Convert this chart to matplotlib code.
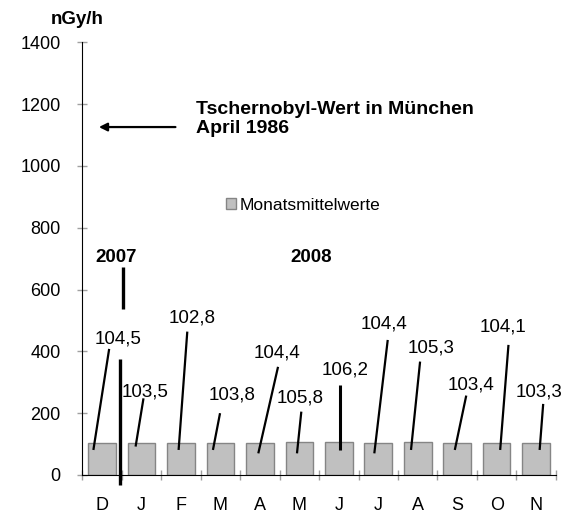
import matplotlib
matplotlib.use("Agg")
import matplotlib.pyplot as plt

plt.rcParams['font.family'] = ['Liberation Sans', 'DejaVu Sans']

# Monatsmittelwerte Dez 2007 - Nov 2008
monate = ["D", "J", "F", "M", "A", "M", "J", "J", "A", "S", "O", "N"]
werte = [104.5, 103.5, 102.8, 103.8, 104.4, 105.8, 106.2, 104.4, 105.3, 103.4, 104.1, 103.3]
jahre = ["2007", "2008"]
tschernobyl = 1126

# Lage der Beschriftungen (Text, oberes und unteres Ende der Linie)
text_x = [0.40, 1.10, 2.27, 3.29, 4.44, 5.02, 6.16, 7.15, 8.34, 9.35, 10.16, 11.08]
text_y = [440, 270, 507, 259, 394, 249, 340, 489, 410, 291, 478, 270]
top_x = [0.18, 1.05, 2.16, 2.99, 4.46, 5.05, 6.02, 7.24, 8.06, 9.23, 10.30, 11.18]
top_y = [408, 248, 464, 200, 350, 205, 291, 437, 367, 257, 421, 230]
bot_x = [-0.22, 0.85, 1.94, 2.81, 3.96, 4.94, 6.02, 6.90, 7.83, 8.94, 10.09, 11.09]
bot_y = [81, 92, 81, 81, 70, 70, 81, 70, 81, 81, 81, 81]

fig = plt.figure(figsize=(5.62, 5.15), dpi=100)
ax = fig.add_axes([0.1465, 0.0777, 0.8425, 0.84])

x = list(range(len(monate)))
ax.bar(x, werte, width=0.7, color="#c0c0c0", edgecolor="#858585", linewidth=1,
       label="Monatsmittelwerte", zorder=2)

for i, w in enumerate(werte):
    lw = 2.2 if i == 6 else 1.6
    ax.plot([bot_x[i], top_x[i]], [bot_y[i], top_y[i]], color="black", lw=lw,
            solid_capstyle="butt", zorder=3)
    ax.text(text_x[i], text_y[i], "{:.1f}".format(w).replace(".", ","),
            ha="center", va="center", fontsize=13.5)

# Jahrestrenner
ax.plot([0.525, 0.525], [537, 672], color="black", lw=2.4, solid_capstyle="butt")
ax.plot([0.456, 0.456], [374, -32], color="black", lw=2.4, solid_capstyle="butt",
        clip_on=False, zorder=4)
ax.text(0.35, 703, jahre[0], ha="center", va="center", fontsize=13.5, fontweight="bold")
ax.text(5.30, 705, jahre[1], ha="center", va="center", fontsize=13.5, fontweight="bold")

# Tschernobyl-Wert
ax.annotate("", xy=(-0.15, tschernobyl), xytext=(1.93, tschernobyl),
            arrowprops=dict(arrowstyle="-|>", color="black", lw=1.6, mutation_scale=12))
ax.text(2.38, 1152, "Tschernobyl-Wert in München\nApril 1986", ha="left", va="center",
        fontsize=14, fontweight="bold", linespacing=1.1)

ax.set_xlim(-0.5, 11.5)
ax.set_ylim(0, 1400)
ax.set_yticks(range(0, 1401, 200))
ax.set_xticks(x)
ax.set_xticklabels(monate)
ax.set_xticks([i - 0.5 for i in range(len(monate) + 1)], minor=True)

ax.tick_params(axis="y", direction="inout", length=7, color="#a0a0a0", width=1,
               labelsize=13, pad=12)
ax.tick_params(axis="x", which="major", length=0, labelsize=13, pad=15.5)
ax.tick_params(axis="x", which="minor", direction="inout", length=7,
               color="#a0a0a0", width=1)

for s in ["top", "right"]:
    ax.spines[s].set_visible(False)
ax.spines["left"].set_color("black")
ax.spines["bottom"].set_color("black")

fig.text(76.7 / 562, 1 - 20 / 515, "nGy/h", ha="center", va="center",
         fontsize=13.5, fontweight="bold")

fig.legend(loc="center left", bbox_to_anchor=(226 / 562, 1 - 205 / 515), frameon=False,
           fontsize=12.5, handlelength=0.55, handleheight=0.55, handletextpad=0.25,
           borderpad=0, borderaxespad=0)

fig.savefig("out.png", dpi=100)
